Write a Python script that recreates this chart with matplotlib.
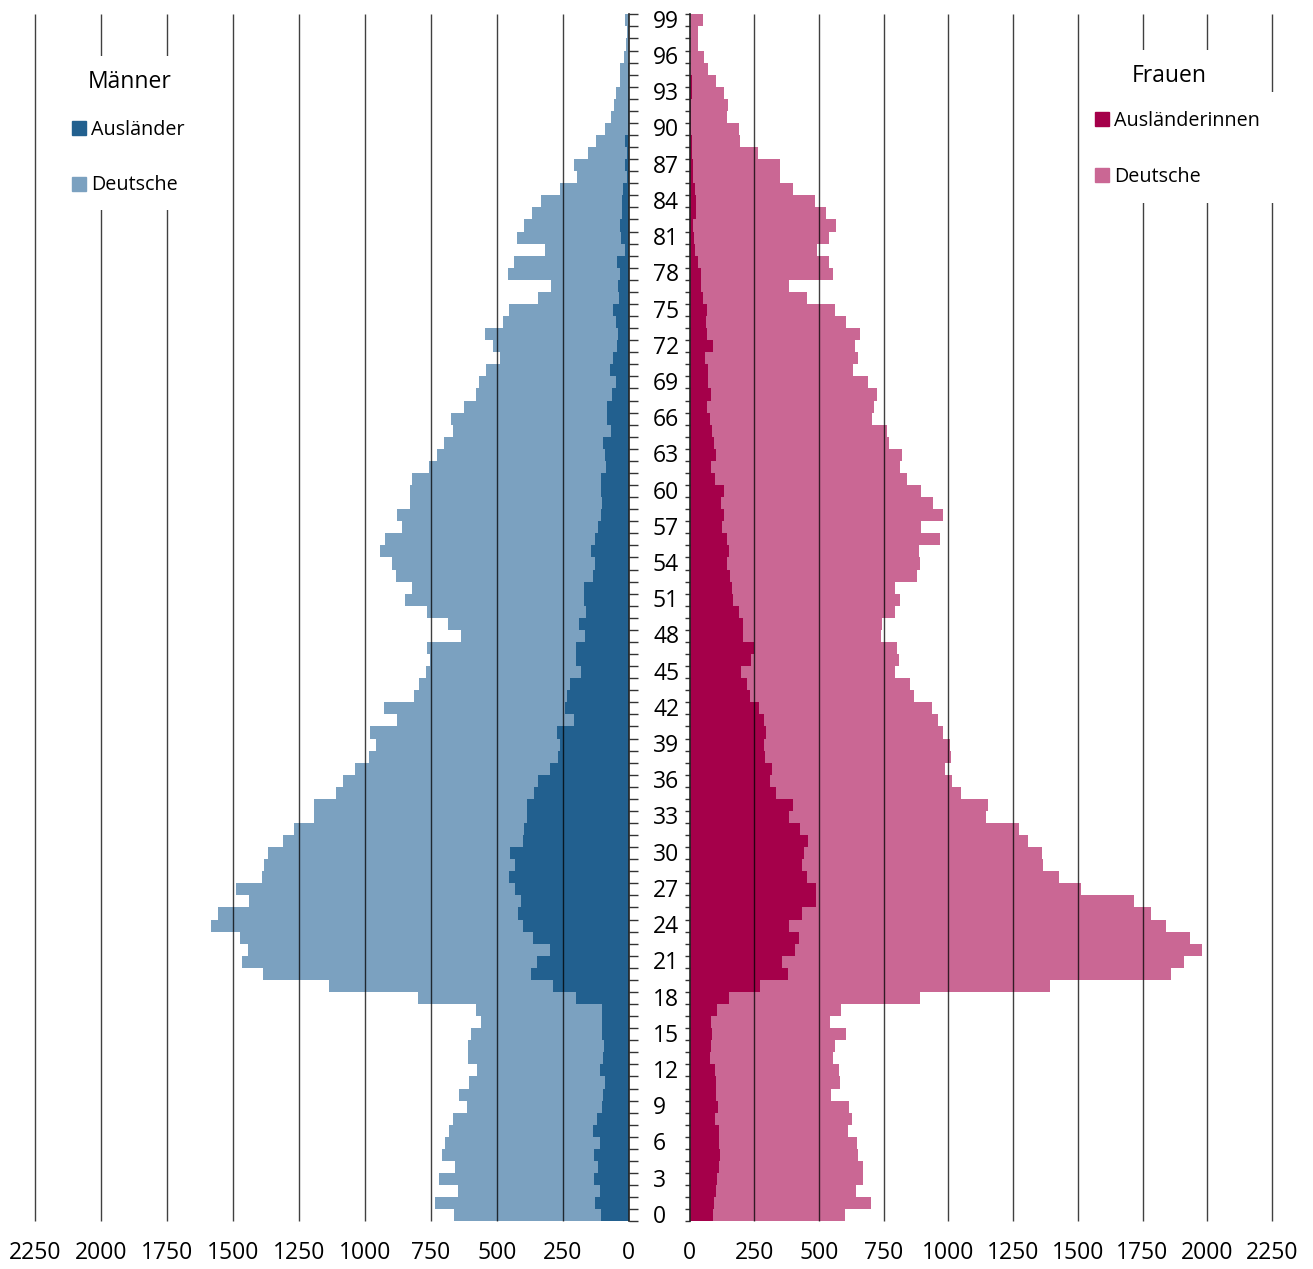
import matplotlib
matplotlib.use('Agg')
import matplotlib.pyplot as plt
from matplotlib.patches import Rectangle, Patch
from matplotlib.transforms import blended_transform_factory, ScaledTranslation
import numpy as np

plt.rcParams['font.family'] = ['Open Sans', 'DejaVu Sans']

# ---------------- data (age 0 .. 99) ----------------
alter = list(range(100))

maenner_auslaender = [
    107, 129, 111, 133, 115, 133, 111, 137, 119, 102,
    97, 89, 111, 97, 94, 101, 101, 102, 200, 286,
    369, 348, 297, 363, 400, 420, 410, 430, 453, 430,
    450, 401, 398, 386, 387, 358, 344, 298, 268, 259,
    272, 206, 243, 233, 221, 183, 202, 200, 167, 190,
    164, 168, 171, 135, 130, 142, 129, 118, 107, 101,
    104, 107, 86, 89, 99, 68, 81, 81, 64, 49,
    70, 61, 46, 42, 47, 61, 39, 42, 32, 44,
    13, 28, 35, 24, 24, 21, 6, 13, 8, 13,
    3, 3, 2, 2, 2, 2, 1, 1, 0, 1]

maenner_deutsche = [
    556, 604, 538, 588, 543, 574, 584, 546, 546, 511,
    547, 517, 466, 514, 515, 498, 460, 477, 600, 850,
    1016, 1119, 1145, 1109, 1183, 1139, 1030, 1057, 937, 951,
    917, 908, 870, 809, 808, 751, 741, 739, 718, 699,
    709, 672, 686, 582, 575, 586, 550, 564, 468, 496,
    601, 680, 650, 746, 767, 800, 797, 741, 772, 730,
    727, 714, 671, 638, 600, 597, 594, 542, 515, 519,
    471, 426, 467, 503, 431, 392, 307, 253, 426, 392,
    304, 397, 361, 343, 307, 238, 190, 196, 146, 113,
    86, 63, 55, 46, 33, 33, 17, 10, 6, 14]

frauen_auslaenderinnen = [
    92, 95, 102, 105, 114, 119, 114, 114, 97, 110,
    101, 102, 97, 80, 81, 85, 82, 106, 154, 273,
    379, 356, 409, 421, 384, 433, 488, 488, 454, 433,
    443, 459, 425, 383, 401, 335, 312, 318, 290, 286,
    294, 286, 267, 235, 223, 200, 236, 248, 205, 208,
    190, 167, 162, 156, 144, 154, 146, 127, 131, 120,
    133, 99, 84, 103, 93, 88, 78, 68, 82, 72,
    72, 60, 89, 68, 64, 67, 50, 43, 44, 33,
    21, 17, 14, 26, 25, 20, 14, 14, 8, 8,
    4, 4, 4, 8, 8, 1, 1, 1, 1, 1]

frauen_deutsche = [
    507, 607, 541, 565, 555, 532, 534, 498, 530, 506,
    444, 481, 481, 474, 481, 520, 462, 478, 737, 1119,
    1483, 1554, 1569, 1511, 1455, 1348, 1229, 1025, 975, 934,
    918, 849, 848, 762, 751, 715, 701, 670, 719, 720,
    686, 673, 670, 633, 628, 592, 572, 554, 535, 537,
    605, 647, 633, 721, 747, 733, 822, 767, 848, 821,
    760, 741, 729, 719, 678, 674, 625, 644, 641, 619,
    559, 591, 550, 592, 539, 494, 402, 341, 511, 507,
    473, 523, 551, 502, 460, 381, 336, 336, 256, 185,
    186, 141, 145, 123, 93, 70, 54, 32, 32, 49]

achsen_werte = [0, 250, 500, 750, 1000, 1250, 1500, 1750, 2000, 2250]
alters_labels = list(range(0, 100, 3))

# ---------------- styling ----------------
c_m_aus = '#22608F'
c_m_de = '#7BA1C0'
c_f_aus = '#A5004A'
c_f_de = '#CA6794'
fs_tick = 16.5

W, H = 1313, 1269
fig = plt.figure(figsize=(W / 100, H / 100), dpi=100)


def fx(px):
    return px / W


def fy(py):
    return 1 - py / H


top_px, bot_px = 14.3, 1221.3
axL = fig.add_axes([fx(35.2), fy(bot_px), (628.8 - 35.2) / W, (bot_px - top_px) / H])
axR = fig.add_axes([fx(689.6), fy(bot_px), (1271.9 - 689.6) / W, (bot_px - top_px) / H])

# bars
axL.barh(alter, maenner_auslaender, height=1.0, color=c_m_aus, linewidth=0, zorder=1)
axL.barh(alter, maenner_deutsche, left=maenner_auslaender, height=1.0, color=c_m_de,
         linewidth=0, zorder=1)
axR.barh(alter, frauen_auslaenderinnen, height=1.0, color=c_f_aus, linewidth=0, zorder=1)
axR.barh(alter, frauen_deutsche, left=frauen_auslaenderinnen, height=1.0, color=c_f_de,
         linewidth=0, zorder=1)

for ax in (axL, axR):
    ax.set_ylim(-0.5, 99.5)
    ax.set_xlim(0, 2250)
    ax.vlines(achsen_werte[1:], -0.5, 99.5, colors='black', linewidth=1.0, alpha=0.75,
              zorder=3, clip_on=False)
    for s in ax.spines.values():
        s.set_visible(False)
    ax.set_xticks(achsen_werte)
    ax.set_xticklabels([str(v) for v in achsen_werte])
    ax.tick_params(axis='x', length=0, pad=14, labelsize=fs_tick, colors='black')
    ax.set_yticks(np.arange(-0.5, 100, 1.0))
    ax.set_yticklabels([])
    ax.set_facecolor('none')

axL.invert_xaxis()
axL.spines['right'].set_visible(True)
axL.spines['right'].set_color('#222222')
axL.spines['right'].set_linewidth(1.2)
axL.yaxis.tick_right()
axL.tick_params(axis='y', direction='out', length=6.5, width=1.0, color='#333333')

axR.spines['left'].set_visible(True)
axR.spines['left'].set_color('#222222')
axR.spines['left'].set_linewidth(1.2)
axR.yaxis.tick_left()
axR.tick_params(axis='y', direction='out', length=3.5, width=1.0, color='#333333')

# age labels in the middle
trans = blended_transform_factory(fig.transFigure, axL.transData) + \
    ScaledTranslation(0, -1.5 / 100, fig.dpi_scale_trans)
for a in alters_labels:
    fig.text(fx(653), a, str(a), transform=trans, ha='left', va='center',
             fontsize=fs_tick, color='black')

# white boxes behind legends (cover gridlines)
fig.add_artist(Rectangle((fx(45), fy(210)), (190 - 45) / W, (210 - 56) / H,
                         transform=fig.transFigure, facecolor='white', edgecolor='none', zorder=2))
fig.add_artist(Rectangle((fx(1100), fy(203)), (1252 - 1100) / W, (203 - 50) / H,
                         transform=fig.transFigure, facecolor='white', edgecolor='none', zorder=2))
fig.add_artist(Rectangle((fx(1088), fy(203)), (1300 - 1088) / W, (203 - 92) / H,
                         transform=fig.transFigure, facecolor='white', edgecolor='none', zorder=2))

fig.text(fx(130), fy(82), 'Männer', ha='center', va='center', fontsize=16.5, zorder=4)
fig.text(fx(1169), fy(76), 'Frauen', ha='center', va='center', fontsize=16.5, zorder=4)

legL = fig.legend(handles=[Patch(color=c_m_aus, label='Ausländer'),
                           Patch(color=c_m_de, label='Deutsche')],
                  loc='upper left', bbox_to_anchor=(fx(72), fy(120)), frameon=False,
                  fontsize=14.2, handlelength=0.7, handleheight=0.7, handletextpad=0.25,
                  labelspacing=1.8, borderpad=0, borderaxespad=0)
legL.set_zorder(5)
legR = fig.legend(handles=[Patch(color=c_f_aus, label='Ausländerinnen'),
                           Patch(color=c_f_de, label='Deutsche')],
                  loc='upper left', bbox_to_anchor=(fx(1095), fy(111)), frameon=False,
                  fontsize=14.2, handlelength=0.7, handleheight=0.7, handletextpad=0.25,
                  labelspacing=1.8, borderpad=0, borderaxespad=0)
legR.set_zorder(5)

fig.savefig('out.png', dpi=100, facecolor='white')
